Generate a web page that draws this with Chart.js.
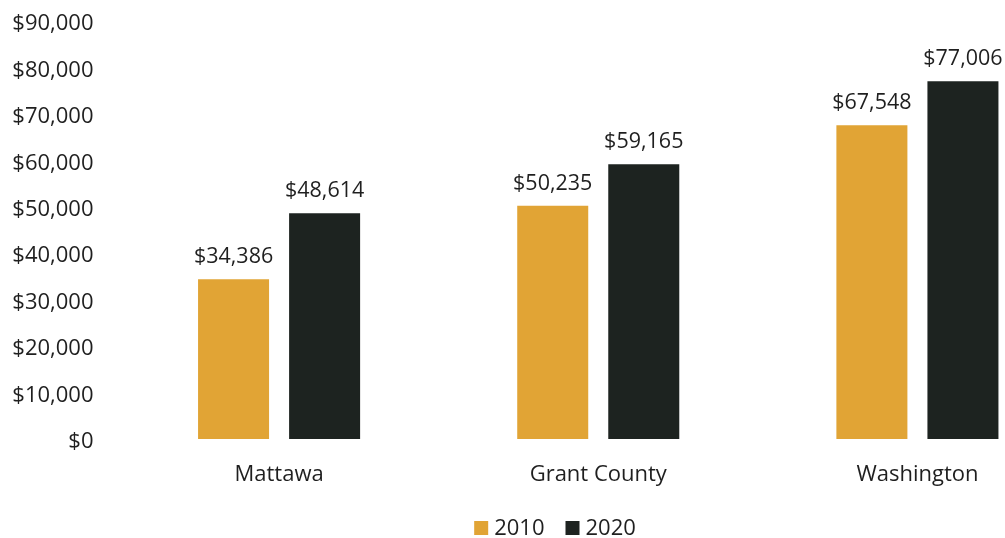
<!DOCTYPE html>
<html>
<head>
<meta charset="utf-8">
<script src="https://cdn.jsdelivr.net/npm/chart.js@4.4.1/dist/chart.umd.min.js"></script>
<style>
  html, body { margin: 0; padding: 0; background: #fff; overflow: hidden; }
  #wrap { position: relative; width: 1077px; height: 538px; }
</style>
</head>
<body>
<div id="wrap"><canvas id="c"></canvas></div>
<script>
// Median household income by place, 2010 vs 2020
const places = ["Mattawa", "Grant County", "Washington"];
const income2010 = [34386, 50235, 67548];
const income2020 = [48614, 59165, 77006];
const seriesNames = ["2010", "2020"];
const seriesColors = ["#E1A435", "#1D2320"];

const FONT = "'Open Sans', 'Noto Sans', sans-serif";
const TEXT = "#1f1f1f";

const money = v => "$" + Math.round(v).toLocaleString("en-US");

// Writes each bar's value above it
const valueLabels = {
  id: "valueLabels",
  afterDatasetsDraw(chart) {
    const ctx = chart.ctx;
    ctx.save();
    ctx.font = "21.5px " + FONT;
    ctx.fillStyle = TEXT;
    ctx.textAlign = "center";
    ctx.textBaseline = "alphabetic";
    chart.data.datasets.forEach((ds, i) => {
      chart.getDatasetMeta(i).data.forEach((bar, j) => {
        ctx.fillText(money(ds.data[j]), bar.x, bar.y - 16);
      });
    });
    ctx.restore();
  }
};

// Compact legend row under the axis: square swatch, tight gap, series name
const swatchLegend = {
  id: "swatchLegend",
  afterDraw(chart, args, opts) {
    const ctx = chart.ctx;
    ctx.save();
    ctx.font = opts.fontSize + "px " + FONT;
    ctx.textBaseline = "middle";
    ctx.textAlign = "left";
    const items = chart.data.datasets.map(ds => ({
      text: ds.label, color: ds.backgroundColor, w: ctx.measureText(ds.label).width
    }));
    const total = items.reduce((s, it) => s + opts.box + opts.gap + it.w, 0) + opts.spacing * (items.length - 1);
    let x = opts.centerX - total / 2;
    const y = opts.centerY;
    items.forEach(it => {
      ctx.fillStyle = it.color;
      ctx.fillRect(x, y - opts.box / 2, opts.box, opts.box);
      x += opts.box + opts.gap;
      ctx.fillStyle = TEXT;
      ctx.fillText(it.text, x, y + 1);
      x += it.w + opts.spacing;
    });
    ctx.restore();
  }
};

new Chart(document.getElementById("c"), {
  type: "bar",
  data: {
    labels: places,
    datasets: [
      { label: seriesNames[0], data: income2010, backgroundColor: seriesColors[0] },
      { label: seriesNames[1], data: income2020, backgroundColor: seriesColors[1] }
    ]
  },
  options: {
    responsive: true,
    maintainAspectRatio: false,
    animation: false,
    layout: { padding: { top: 21, left: 13, right: 0, bottom: 47 } },
    datasets: { bar: { categoryPercentage: 0.5705, barPercentage: 0.78 } },
    scales: {
      x: {
        grid: { display: false, drawTicks: false },
        border: { display: false },
        ticks: { color: TEXT, font: { family: FONT, size: 22 }, padding: 23 },
        afterFit: s => { s.height = 52; }
      },
      y: {
        min: 0,
        max: 90000,
        grid: { display: false, drawTicks: false },
        border: { display: false },
        ticks: {
          stepSize: 10000,
          color: TEXT,
          font: { family: FONT, size: 22 },
          padding: 26,
          labelOffset: 3,
          callback: v => money(v)
        },
        afterFit: s => { s.width = 106.5; s.paddingTop = 0; s.paddingBottom = 0; }
      }
    },
    plugins: {
      tooltip: { enabled: false },
      legend: { display: false },
      swatchLegend: { centerX: 555, centerY: 528, box: 14, gap: 6, spacing: 21, fontSize: 22 }
    }
  },
  plugins: [valueLabels, swatchLegend]
});
</script>
</body>
</html>
